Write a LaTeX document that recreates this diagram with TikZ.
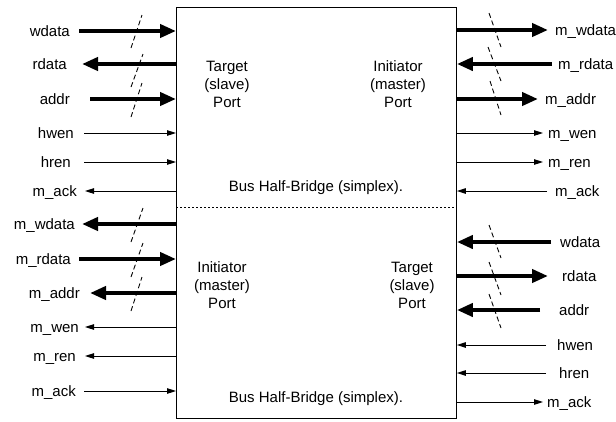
\documentclass[tikz,border=0pt]{standalone}
\usepackage{fontspec}
\setmainfont{Liberation Sans}
\usetikzlibrary{arrows.meta}
\begin{document}
\begin{tikzpicture}[x=1pt,y=-1pt,
  font=\fontsize{15}{18}\selectfont,
  bus/.style={line width=4pt,-{Triangle[length=16pt,width=13pt]}},
  sig/.style={line width=0.9pt,-{Triangle[length=9pt,width=5.5pt]}},
  slash/.style={line width=0.9pt,dash pattern=on 5pt off 3pt},
  lblL/.style={anchor=base east,inner sep=0pt,yshift=-5pt},
  lblR/.style={anchor=base west,inner sep=0pt,yshift=-5pt},
  intext/.style={align=center,inner sep=0pt,anchor=base,font=\fontsize{15}{18}\selectfont}]
\useasboundingbox (0,0) rectangle (616,421);
\node[draw,line width=0.9pt,minimum width=280pt,minimum height=411pt,inner sep=0pt,anchor=north west] (box) at (176,7) {};
\draw[line width=0.9pt,dash pattern=on 2pt off 2pt] (box.west |- 0,207) coordinate (dl) -- (box.east |- dl);

% texts inside box (base = baseline of the last line)
\node[intext] (t1) at (227,107.5) {Target\\(slave)\\Port};
\node[intext] (t2) at (398,107.5) {Initiator\\(master)\\Port};
\node[intext] (t3) at (316,191) {Bus Half-Bridge (simplex).};
\node[intext] (t4) at (222,308) {Initiator\\(master)\\Port};
\node[intext] (t5) at (412,308) {Target\\(slave)\\Port};
\node[intext] (t6) at (316,402) {Bus Half-Bridge (simplex).};

% top-left
\node[lblL] (a1) at (70,31) {wdata};
\node[lblL] (a2) at (67,64) {rdata};
\node[lblL] (a3) at (70,99) {addr};
\node[lblL] (a4) at (74,133) {hwen};
\node[lblL] (a5) at (71,162) {hren};
\node[lblL] (a6) at (77,191) {m\_ack};
\coordinate (e1) at (79,31);
\coordinate (e2) at (82,64);
\coordinate (e3) at (90,99);
\coordinate (e4) at (84,133);
\coordinate (e5) at (84,162);
\coordinate (e6) at (85,191);
\draw[bus] (e1) -- (box.west |- e1);
\draw[bus] (box.west |- e2) -- (e2);
\draw[bus] (e3) -- (box.west |- e3);
\draw[sig] (e4) -- (box.west |- e4);
\draw[sig] (e5) -- (box.west |- e5);
\draw[sig] (box.west |- e6) -- (e6);
\draw[slash] (131,48) -- (142,15);
\draw[slash] (131,87) -- (143,54);
\draw[slash] (131,117) -- (142,83);

% bottom-left
\node[lblL] (b1) at (75,224) {m\_wdata};
\node[lblL] (b2) at (71,259) {m\_rdata};
\node[lblL] (b3) at (80,293) {m\_addr};
\node[lblL] (b4) at (79,327) {m\_wen};
\node[lblL] (b5) at (76,356) {m\_ren};
\node[lblL] (b6) at (76,391) {m\_ack};
\coordinate (f1) at (82,224);
\coordinate (f2) at (79,259);
\coordinate (f3) at (90,293);
\coordinate (f4) at (85,327);
\coordinate (f5) at (85,356);
\coordinate (f6) at (84,391);
\draw[bus] (box.west |- f1) -- (f1);
\draw[bus] (f2) -- (box.west |- f2);
\draw[bus] (box.west |- f3) -- (f3);
\draw[sig] (box.west |- f4) -- (f4);
\draw[sig] (box.west |- f5) -- (f5);
\draw[sig] (f6) -- (box.west |- f6);
\draw[slash] (131,242) -- (143,208);
\draw[slash] (131,277) -- (143,243);
\draw[slash] (131,311) -- (142,277);

% top-right
\node[lblR] (c1) at (555,30) {m\_wdata};
\node[lblR] (c2) at (558,64) {m\_rdata};
\node[lblR] (c3) at (545,99) {m\_addr};
\node[lblR] (c4) at (548,133) {m\_wen};
\node[lblR] (c5) at (548,162) {m\_ren};
\node[lblR] (c6) at (555,191) {m\_ack};
\coordinate (g1) at (548,30);
\coordinate (g2) at (552,64);
\coordinate (g3) at (538,99);
\coordinate (g4) at (543,133);
\coordinate (g5) at (543,162);
\coordinate (g6) at (547,191);
\draw[bus] (box.east |- g1) -- (g1);
\draw[bus] (g2) -- (box.east |- g2);
\draw[bus] (box.east |- g3) -- (g3);
\draw[sig] (box.east |- g4) -- (g4);
\draw[sig] (box.east |- g5) -- (g5);
\draw[sig] (g6) -- (box.east |- g6);
\draw[slash] (489,13) -- (501,47);
\draw[slash] (488,47) -- (501,81);
\draw[slash] (490,81) -- (501,115);

% bottom-right
\node[lblR] (d1) at (560,242) {wdata};
\node[lblR] (d2) at (562,276) {rdata};
\node[lblR] (d3) at (559,310) {addr};
\node[lblR] (d4) at (557,345) {hwen};
\node[lblR] (d5) at (559,373) {hren};
\node[lblR] (d6) at (547,402) {m\_ack};
\coordinate (h1) at (551,242);
\coordinate (h2) at (548,276);
\coordinate (h3) at (540,310);
\coordinate (h4) at (546,345);
\coordinate (h5) at (546,373);
\coordinate (h6) at (543,402);
\draw[bus] (h1) -- (box.east |- h1);
\draw[bus] (box.east |- h2) -- (h2);
\draw[bus] (h3) -- (box.east |- h3);
\draw[sig] (h4) -- (box.east |- h4);
\draw[sig] (h5) -- (box.east |- h5);
\draw[sig] (box.east |- h6) -- (h6);
\draw[slash] (489,225) -- (501,258);
\draw[slash] (489,262) -- (501,295);
\draw[slash] (489,294) -- (501,328);
\end{tikzpicture}
\end{document}
